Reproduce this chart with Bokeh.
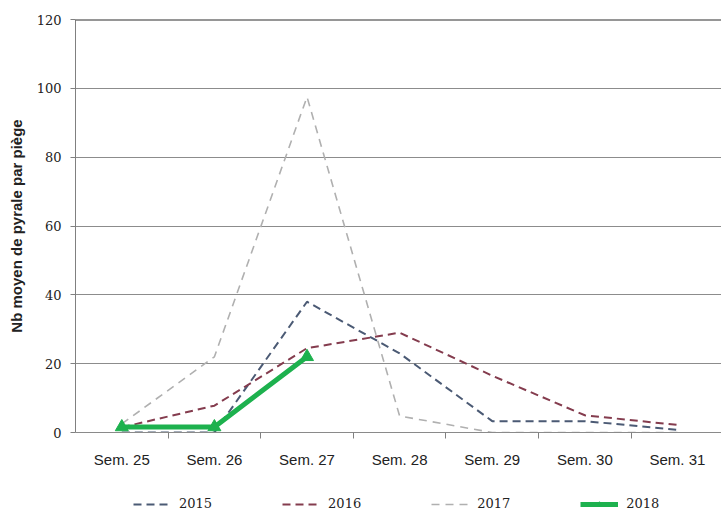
from bokeh.plotting import figure
from bokeh.models import Range1d, FixedTicker, Span, Legend, LegendItem
from bokeh.layouts import column
from bokeh.embed import file_html
from bokeh.resources import INLINE

weeks = ["Sem. 25", "Sem. 26", "Sem. 27", "Sem. 28", "Sem. 29", "Sem. 30", "Sem. 31"]
y2015 = [0, 0, 38, 23, 3.3, 3.3, 0.8]
y2016 = [1.5, 7.8, 24.5, 29, 16.5, 5, 2.2]
y2017 = [2.5, 22, 97.5, 4.8, 0, 0, 0]
y2018 = [1.6, 1.6, 22]
y_ticks = [0, 20, 40, 60, 80, 100, 120]

x_all = list(range(len(weeks)))
x2018 = x_all[:len(y2018)]

STY = {
    "2015": dict(line_color="#4b5a74", line_width=2, line_dash="8 5"),
    "2016": dict(line_color="#843c4e", line_width=2, line_dash="8 5"),
    "2017": dict(line_color="#b0b0b0", line_width=1.6, line_dash="8 6"),
    "2018": dict(line_color="#1db14e", line_width=5),
}
MK = dict(marker="triangle", size=13, fill_color="#1db14e", line_color="#1db14e")

p = figure(width=721, height=482, output_backend="svg", toolbar_location=None,
           x_range=Range1d(-0.5, 6.476), y_range=Range1d(0, 120),
           min_border_left=75, min_border_right=0, min_border_top=19, min_border_bottom=50)
p.outline_line_color = None

# axes
p.xaxis.ticker = FixedTicker(ticks=x_all, minor_ticks=[i + 0.5 for i in x_all[:-1]])
p.xaxis.major_label_overrides = {i: w for i, w in zip(x_all, weeks)}
p.xaxis.major_tick_line_color = None
p.xaxis.major_tick_out = 0
p.xaxis.minor_tick_out = 6
p.xaxis.minor_tick_in = 0
p.xaxis.minor_tick_line_color = "#808080"
p.xaxis.axis_line_color = "#8a8a8a"
p.xaxis.major_label_standoff = 12
p.xaxis.major_label_text_font = "Liberation Sans"
p.xaxis.major_label_text_font_size = "15px"
p.xaxis.major_label_text_color = "#222222"

p.yaxis.ticker = FixedTicker(ticks=y_ticks)
p.yaxis.major_tick_out = 5
p.yaxis.major_tick_in = 0
p.yaxis.major_tick_line_color = "#808080"
p.yaxis.minor_tick_line_color = None
p.yaxis.axis_line_color = "#808080"
p.yaxis.major_label_standoff = 9
p.yaxis.major_label_text_font = "DejaVu Serif"
p.yaxis.major_label_text_font_size = "13px"
p.yaxis.major_label_text_color = "#222222"
p.yaxis.axis_label = "Nb moyen de pyrale par piège"
p.yaxis.axis_label_text_font = "Liberation Sans"
p.yaxis.axis_label_text_font_style = "bold"
p.yaxis.axis_label_text_font_size = "15px"
p.yaxis.axis_label_text_color = "#222222"
p.yaxis.axis_label_standoff = 9

p.xgrid.grid_line_color = None
p.ygrid.grid_line_color = "#8c8c8c"
p.ygrid.grid_line_width = 1

p.add_layout(Span(location=120, dimension="width", line_color="#2e2e2e", line_width=2))

# series
p.line(x_all, y2015, **STY["2015"])
p.line(x_all, y2016, **STY["2016"])
p.line(x_all, y2017, **STY["2017"])
p.line(x2018, y2018, **STY["2018"])
p.scatter(x2018, y2018, **MK)

# legend strip (same series, ranges placed so only the legend shows)
q = figure(width=721, height=29, output_backend="svg", toolbar_location=None,
           x_range=Range1d(-0.5, 6.476), y_range=Range1d(500, 600),
           x_axis_type=None, y_axis_type=None,
           min_border_left=0, min_border_right=0, min_border_top=0, min_border_bottom=0)
q.outline_line_color = None
q.xgrid.grid_line_color = None
q.ygrid.grid_line_color = None
l15 = q.line(x_all, y2015, **STY["2015"])
l16 = q.line(x_all, y2016, **STY["2016"])
l17 = q.line(x_all, y2017, **STY["2017"])
l18 = q.line(x2018, y2018, **STY["2018"])
l18m = q.scatter(x2018, y2018, marker="triangle", size=9, fill_color="#1db14e", line_color="#1db14e")

legend = Legend(items=[LegendItem(label="2015", renderers=[l15]),
                       LegendItem(label="2016", renderers=[l16]),
                       LegendItem(label="2017", renderers=[l17]),
                       LegendItem(label="2018", renderers=[l18, l18m])],
                location=(58, 0), orientation="horizontal",
                glyph_width=38, glyph_height=12, label_height=12,
                label_standoff=8, padding=0, margin=0, spacing=70,
                border_line_color=None, background_fill_alpha=0,
                label_text_font="DejaVu Serif", label_text_font_size="13px",
                label_text_color="#222222")
q.add_layout(legend, "center")

open("out.html", "w").write(file_html(column(p, q, spacing=0), INLINE))
